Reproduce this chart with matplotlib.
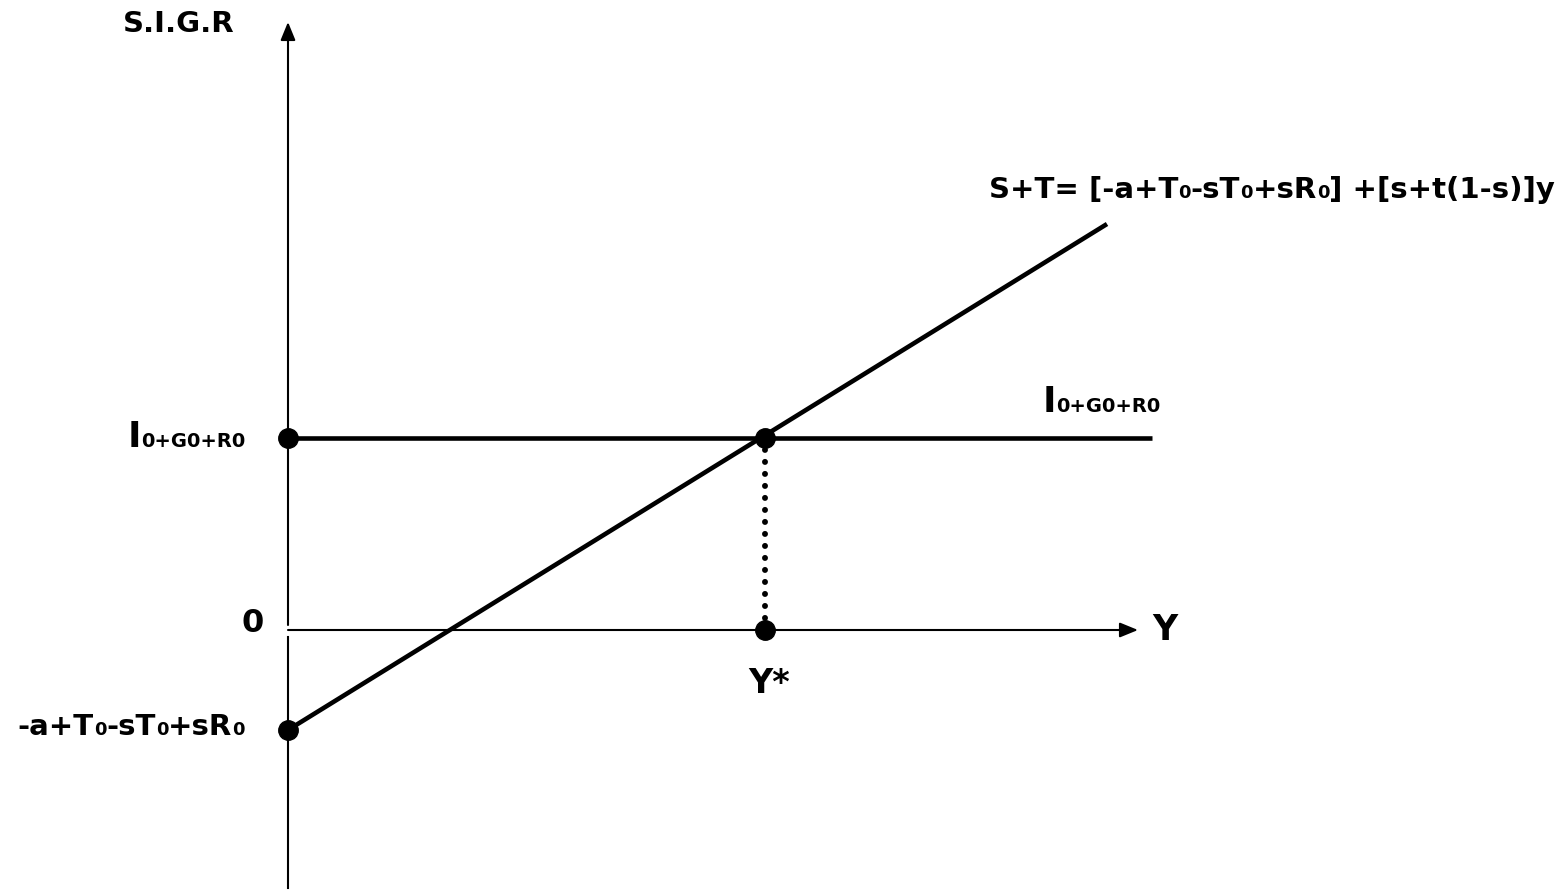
import matplotlib.pyplot as plt
from matplotlib.transforms import Affine2D

# valeurs du schéma (unités arbitraires, origine = 0)
intercept = -100        # -a+T0-sT0+sR0
injections = 192        # I0+G0+R0
st_x = [0, 819]         # droite S+T
st_y = [-100, 406]
inj_x = [0, 864]        # droite I0+G0+R0
y_star = 477
x_axis_end = 850
y_axis_top = 608
y_axis_bottom = -258

FONT = 'DejaVu Sans'

fig = plt.figure(figsize=(15.64, 8.9), dpi=100)
ax = fig.add_axes([0, 0, 1, 1])
ax.set_xlim(-288, 1276)
ax.set_ylim(-260, 630)
ax.axis('off')
renderer = fig.canvas.get_renderer()


def rich_text(x, y, parts, ha='left'):
    # parts : (texte, taille) posés bout à bout sur la même ligne de base
    texts = []
    for s, size in parts:
        t = ax.text(x, y, s, fontsize=size, fontweight='bold', family=FONT,
                    ha='left', va='baseline', color='black')
        texts.append(t)
    widths = [t.get_window_extent(renderer).width for t in texts]
    total = sum(widths)
    start = {'left': 0, 'center': -total / 2, 'right': -total}[ha]
    for t, w in zip(texts, widths):
        t.set_transform(ax.transData + Affine2D().translate(start, 0))
        start += w


# axes
ax.plot([0, 0], [y_axis_bottom, -7], color='black', lw=1.5)
arrow = dict(arrowstyle='-|>,head_length=1.1,head_width=0.45',
             color='black', lw=1.5, shrinkA=0, shrinkB=0)
ax.annotate('', xy=(0, y_axis_top), xytext=(0, 5), arrowprops=arrow)
ax.annotate('', xy=(x_axis_end, 0), xytext=(0, 0), arrowprops=arrow)

# droites
ax.plot(st_x, st_y, color='black', lw=3.3, solid_capstyle='butt')
ax.plot(inj_x, [injections, injections], color='black', lw=3.3,
        solid_capstyle='butt')
ax.plot([y_star, y_star], [0, injections], color='black', lw=4.3,
        linestyle=(0, (0.01, 2.0)), dash_capstyle='round')

# points
ax.plot([0, y_star, 0, y_star], [injections, injections, intercept, 0],
        'o', color='black', markersize=14)

# textes
rich_text(-165, 598, [('S.I.G.R', 21)])
rich_text(864, -10, [('Y', 25)])
rich_text(481, -63, [('Y*', 24)], ha='center')
rich_text(-35, -2, [('0', 23)], ha='center')

big, small = 21, 13
rich_text(-43, -105, [('-a+T', big), ('0', small), ('-sT', big), ('0', small),
                      ('+sR', big), ('0', small)], ha='right')
rich_text(-43, 183, [('I', 26), ('0+G0+R0', 14)], ha='right')
rich_text(755, 218, [('I', 26), ('0+G0+R0', 14)], ha='left')
rich_text(1267, 432, [('S+T= [-a+T', big), ('0', small), ('-sT', big),
                      ('0', small), ('+sR', big), ('0', small),
                      ('] +[s+t(1-s)]y', big)], ha='right')

fig.savefig('out.png', dpi=100)
